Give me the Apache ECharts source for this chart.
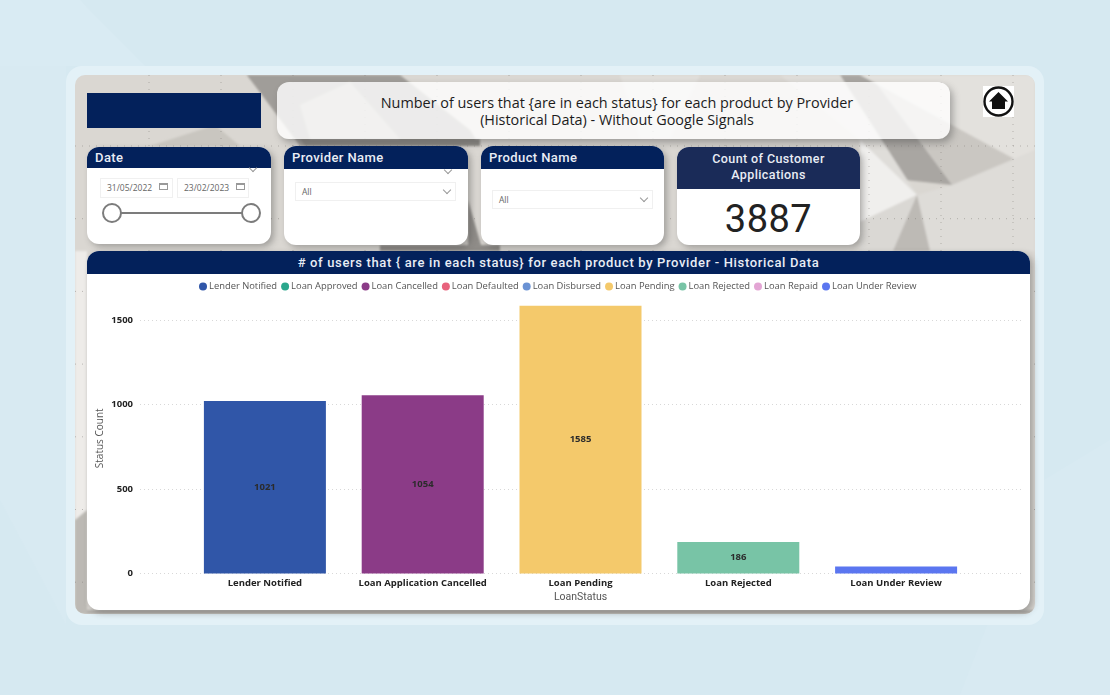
<!DOCTYPE html>
<html>
<head>
<meta charset="utf-8">
<title>Loan status</title>
<script src="https://cdn.jsdelivr.net/npm/echarts@6/dist/echarts.min.js"></script>
<style>
	html, body { margin: 0; padding: 0; }
	body { width: 1110px; height: 695px; overflow: hidden; position: relative; background: #d6e9f1; font-family: "Open Sans", sans-serif; }
	.abs { position: absolute; box-sizing: border-box; }
	#frame { left: 66px; top: 66px; width: 978px; height: 559px; border-radius: 16px; background: #e3f1f7; }
	#panel { left: 75px; top: 75px; width: 960px; height: 539px; border-radius: 10px; overflow: hidden; background: #dad7d2; }
	#banner { left: 87px; top: 93px; width: 174px; height: 35px; background: #03215b; }
	#titleBox { left: 277px; top: 82px; width: 673px; height: 57px; border-radius: 12px; background: rgba(255,255,255,.8); box-shadow: 3px 4px 7px rgba(70,70,70,.4); text-align: center; font-size: 14.4px; line-height: 17px; padding: 12px 0 0 7px; color: #1c1c1c; }
	.card { background: #fff; border-radius: 12px; box-shadow: 3px 3px 6px rgba(60,60,60,.35); overflow: hidden; }
	.head { background: #03215b; color: #e9edf5; font-family: Roboto, sans-serif; font-weight: 500; font-size: 13px; letter-spacing: .4px; height: 22px; line-height: 22px; padding-left: 8px; }
	.input { border: 1px solid #f0f0f0; font-size: 8.5px; color: #666; line-height: 18px; padding-left: 6px; background: #fff; }
	.chev { width: 6px; height: 6px; border-right: 1px solid #999; border-bottom: 1px solid #999; transform: rotate(45deg); }
	.cal { width: 9px; height: 7px; border: 1px solid #999; border-top-width: 2px; }
	.knob { width: 20px; height: 20px; border-radius: 50%; border: 2px solid #7c7c7c; background: #fff; }
	#chart { left: 0; top: 0; width: 1110px; height: 695px; }
</style>
</head>
<body>
<svg class="abs" style="left:0;top:0" width="1110" height="695">
	<polygon points="0,0 80,0 145,66 0,66" fill="#d9ebf3"/>
	<polygon points="1044,480 1110,440 1110,695 960,695" fill="#d8eaf2"/>
	<polygon points="0,66 66,66 66,625 0,500" fill="#d8eaf2"/>
</svg>
<div class="abs" id="frame"></div>
<div class="abs" id="panel">
	<svg id="panelArt" width="960" height="539" viewBox="75 75 960 539" style="position:absolute;left:0;top:0">
		<defs><filter id="soft"><feGaussianBlur stdDeviation="0.8"/></filter></defs>
		<g filter="url(#soft)">
			<polygon points="75,251 87,251 87,510 75,520" fill="#eeece9"/>
			<polygon points="75,520 87,510 87,614 75,614" fill="#bcb9b4"/>
			<polygon points="87,610 1035,610 1035,614 87,614" fill="#b4b1ac"/>
			<polygon points="150,146 215,125 240,146" fill="#c9c6c0"/>
			<polygon points="247,75 345,75 310,110 290,130" fill="#8f8c88"/>
			<polygon points="247,75 300,146 480,146 470,130 400,75" fill="#a09d99"/>
			<polygon points="300,139 480,139 480,146 305,146" fill="#8b8884"/>
			<polygon points="300,105 350,82 400,139 310,139" fill="#bdbab5"/>
			<polygon points="380,245 500,245 500,251 380,251" fill="#8f8c88"/>
			<polygon points="468,200 481,245 468,245" fill="#8f8c88"/>
			<polygon points="620,75 700,75 670,139 640,139" fill="#e0deda"/>
			<polygon points="780,75 860,75 1035,170 1035,200 952,185 880,130" fill="#cac7c2"/>
			<polygon points="840,75 870,75 952,185 905,180" fill="#a9a6a2"/>
			<polygon points="780,75 840,75 917,195 860,140" fill="#dfddd9"/>
			<polygon points="860,75 1035,170 1035,75" fill="#e3e1dd"/>
			<polygon points="917,195 952,185 1035,150 1035,251 930,251" fill="#dedcd8"/>
			<polygon points="860,140 917,195 860,222" fill="#f0efed"/>
			<polygon points="917,195 893,251 860,251 860,222" fill="#dad8d4"/>
			<polygon points="917,195 930,251 893,251" fill="#bdbab5"/>
		</g>
		<path id="dots" fill="none" stroke="#77736e" stroke-width="1" stroke-dasharray="1 6" opacity=".45"/>
	</svg>
</div>
<div class="abs" id="banner"></div>
<div class="abs" id="titleBox">Number of users that {are in each status} for each product by Provider<br>(Historical Data) - Without Google Signals</div>
<svg class="abs" style="left:983px;top:86px" width="31" height="31">
	<rect width="31" height="31" fill="#fff"/>
	<circle cx="15.5" cy="15.5" r="14" fill="none" stroke="#111" stroke-width="2.4"/>
	<polygon points="15.5,6 25,15.5 22,15.5 22,23 9,23 9,15.5 6,15.5" fill="#111"/>
</svg>

<div class="abs card" style="left:87px;top:147px;width:184px;height:97px">
	<div class="head" style="height:21px;line-height:21px">Date</div>
</div>
<div class="abs chev" style="left:250px;top:165px"></div>
<div class="abs input" style="left:100px;top:178px;width:73px;height:20px">31/05/2022</div>
<div class="abs input" style="left:177px;top:178px;width:72px;height:20px">23/02/2023</div>
<div class="abs cal" style="left:159px;top:183px"></div>
<div class="abs cal" style="left:236px;top:183px"></div>
<div class="abs" style="left:112px;top:212px;width:139px;height:2px;background:#7c7c7c"></div>
<div class="abs knob" style="left:102px;top:203px"></div>
<div class="abs knob" style="left:241px;top:203px"></div>

<div class="abs card" style="left:284px;top:146px;width:184px;height:99px">
	<div class="head" style="height:23px;line-height:23px">Provider Name</div>
</div>
<div class="abs input" style="left:295px;top:182px;width:161px;height:19px">All</div>
<div class="abs chev" style="left:444px;top:187px"></div>
<div class="abs chev" style="left:445px;top:167px"></div>

<div class="abs card" style="left:481px;top:146px;width:183px;height:99px">
	<div class="head" style="height:23px;line-height:23px">Product Name</div>
</div>
<div class="abs input" style="left:492px;top:190px;width:161px;height:19px">All</div>
<div class="abs chev" style="left:641px;top:195px"></div>

<div class="abs card" style="left:677px;top:147px;width:183px;height:98px;text-align:center">
	<div class="head" style="height:38px;line-height:16px;background:#1a2b58;padding:4px 0 0;font-size:12.5px">Count of Customer<br>Applications</div>
	<div style="font-family:Roboto,sans-serif;font-weight:400;font-size:38px;line-height:60px;color:#222;letter-spacing:.5px">3887</div>
</div>

<div class="abs card" style="left:87px;top:251px;width:943px;height:359px;border-radius:12px">
	<div class="head" style="height:23px;line-height:23px;text-align:center;padding:0;font-size:13px;letter-spacing:.65px"># of users that { are in each status} for each product by Provider - Historical Data</div>
</div>
<div class="abs" id="chart"></div>

<script>
var categories = ['Lender Notified', 'Loan Application Cancelled', 'Loan Pending', 'Loan Rejected', 'Loan Under Review'];
var statusNames = ['Lender Notified', 'Loan Approved', 'Loan Cancelled', 'Loan Defaulted', 'Loan Disbursed', 'Loan Pending', 'Loan Rejected', 'Loan Repaid', 'Loan Under Review'];
var statusColors = ['#3056a8', '#2aa78c', '#8b3b87', '#e8627c', '#6a92d4', '#f4c96b', '#78c4a6', '#e3a5d4', '#5b76f0'];
var lenderNotified = [1021, null, null, null, null];
var loanApproved = [null, null, null, null, null];
var loanCancelled = [null, 1054, null, null, null];
var loanDefaulted = [null, null, null, null, null];
var loanDisbursed = [null, null, null, null, null];
var loanPending = [null, null, 1585, null, null];
var loanRejected = [null, null, null, 186, null];
var loanRepaid = [null, null, null, null, null];
var loanUnderReview = [null, null, null, null, 41];
var statusValues = [lenderNotified, loanApproved, loanCancelled, loanDefaulted, loanDisbursed, loanPending, loanRejected, loanRepaid, loanUnderReview];

// dotted guide lines of the report canvas
var dotPath = '';
for (var dx = 149; dx < 1035; dx += 72) {
	dotPath += 'M' + dx + ' 75V614';
}
for (var dy = 146; dy < 614; dy += 72.7) {
	dotPath += 'M75 ' + dy + 'H1035';
}
document.getElementById('dots').setAttribute('d', dotPath);

var myChart = echarts.init(document.getElementById('chart'));

var series = statusNames.map(function (name, i) {
	return {
		name: name,
		type: 'bar',
		stack: 'status',
		xAxisIndex: 1,
		yAxisIndex: 1,
		barWidth: 122,
		itemStyle: { color: statusColors[i] },
		// the last bar is too thin to carry a label
		label: {
			show: name !== 'Loan Under Review',
			position: 'inside',
			color: '#2b2b2b',
			fontFamily: 'Open Sans',
			fontWeight: 'bold',
			fontSize: 9.5
		},
		data: statusValues[i]
	};
});

var option = {
	animation: false,
	backgroundColor: 'transparent',
	legend: {
		top: 282,
		left: 199,
		padding: 0,
		itemWidth: 8,
		itemHeight: 8,
		itemGap: 4,
		icon: 'circle',
		textStyle: { fontFamily: 'Open Sans', fontSize: 9.4, color: '#555', padding: [0, 0, 0, -3] },
		data: statusNames
	},
	grid: [
		// wide grid: only y labels and dotted lines
		{ left: 140, width: 883, top: 303.1, height: 270.4 },
		// bars
		{ left: 186, width: 789, top: 303.1, height: 270.4 }
	],
	xAxis: [
		{ gridIndex: 0, type: 'category', data: categories, show: false },
		{
			gridIndex: 1,
			type: 'category',
			data: categories,
			name: 'LoanStatus',
			nameLocation: 'middle',
			nameGap: 18,
			nameTextStyle: { fontFamily: 'Roboto', fontSize: 10.5, color: '#555' },
			axisLine: { show: false },
			axisTick: { show: false },
			axisLabel: { interval: 0, margin: 5, color: '#222', fontFamily: 'Open Sans', fontWeight: 'bold', fontSize: 9.5 }
		}
	],
	yAxis: [
		{
			gridIndex: 0,
			type: 'value',
			min: 0,
			max: 1600,
			interval: 500,
			name: 'Status Count',
			nameLocation: 'middle',
			nameGap: 35,
			nameMoveOverlap: false,
			nameTextStyle: { fontFamily: 'Open Sans', fontSize: 10, color: '#555' },
			axisLine: { show: false },
			axisTick: { show: false },
			axisLabel: {
				showMaxLabel: false,
				margin: 7,
				padding: [1, 0, 0, 0],
				color: '#222',
				fontFamily: 'Open Sans',
				fontWeight: 'bold',
				fontSize: 9.5,
				formatter: function (v) { return String(v); }
			},
			splitLine: { showMaxLine: false, lineStyle: { type: [1, 3], color: '#d8d8d8', width: 1 } }
		},
		{ gridIndex: 1, type: 'value', min: 0, max: 1600, interval: 500, show: false, splitLine: { show: false } }
	],
	series: series
};
myChart.setOption(option);
</script>
</body>
</html>
